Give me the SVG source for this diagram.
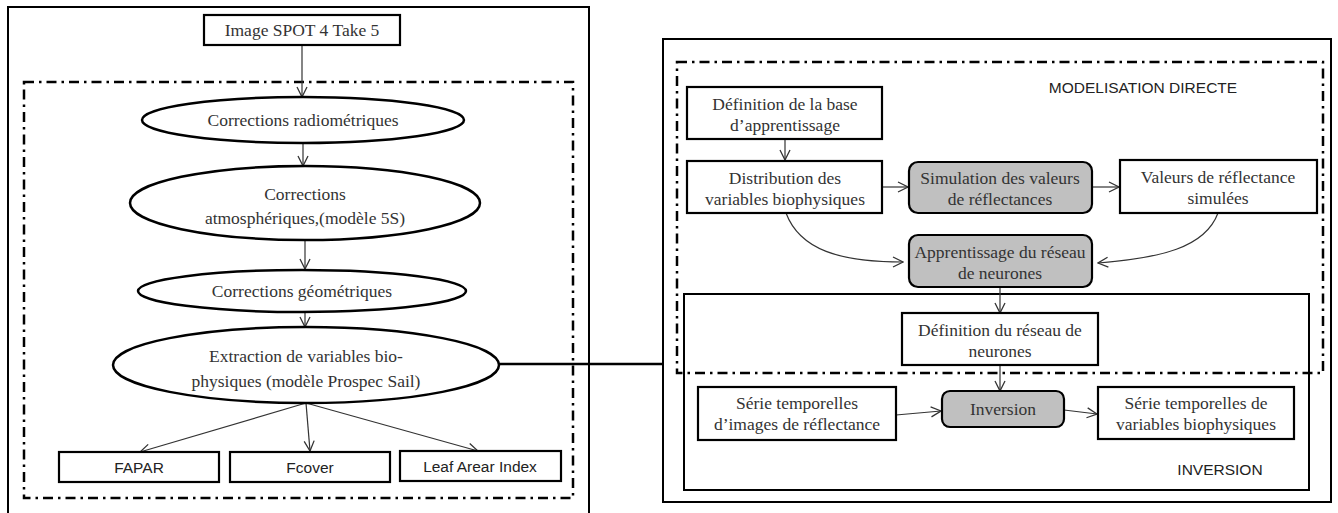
<svg xmlns="http://www.w3.org/2000/svg" width="1338" height="513" viewBox="0 0 1338 513">
<style>
.frame{fill:none;stroke:#000;stroke-width:2}
.dd{fill:none;stroke:#000;stroke-width:2.5;stroke-dasharray:10 5 2.5 5}
.box{fill:#fff;stroke:#000;stroke-width:2.2}
.gbox{fill:#c0c0c0;stroke:#000;stroke-width:2.2}
.ell{fill:#fff;stroke:#000;stroke-width:2.5}
.t{font-family:"Liberation Serif","Times New Roman",serif;font-size:17.5px;fill:#333;text-anchor:middle}
.s{font-family:"Liberation Sans",Arial,sans-serif;font-size:15.5px;fill:#222;text-anchor:middle}
.c{fill:none;stroke:#333;stroke-width:1.2;marker-end:url(#ah)}
</style>
<defs>
<marker id="ah" viewBox="0 0 12 12" refX="11" refY="6" markerWidth="12" markerHeight="12" markerUnits="userSpaceOnUse" orient="auto">
<path d="M1,1 L11,6 L1,11" fill="none" stroke="#333" stroke-width="1.3"/>
</marker>
</defs>
<rect width="1338" height="513" fill="#fff"/>
<g id="frames">
<rect class="frame" x="8" y="7" width="581" height="520"/>
<rect class="dd" x="24" y="82" width="549" height="416"/>
<rect class="frame" x="663" y="39" width="668" height="463"/>
<rect class="dd" x="677" y="62" width="646" height="311"/>
<rect class="frame" x="684" y="294" width="625" height="196"/>
<text class="s" x="1143" y="93" font-size="15">MODELISATION DIRECTE</text>
<text class="s" x="1220" y="475" font-size="15">INVERSION</text>
</g>
<g id="connectors">
<line class="c" x1="302" y1="45" x2="302" y2="97"/>
<line class="c" x1="303" y1="143" x2="303" y2="166"/>
<line class="c" x1="305" y1="240" x2="305" y2="269"/>
<line class="c" x1="305" y1="312" x2="305" y2="327"/>
<line class="c" x1="306" y1="403" x2="140" y2="452"/>
<line class="c" x1="306" y1="403" x2="310" y2="451"/>
<line class="c" x1="306" y1="403" x2="478" y2="451"/>
<line x1="499" y1="364" x2="663" y2="364" stroke="#000" stroke-width="2.5"/>
<line class="c" x1="785" y1="139" x2="785" y2="160"/>
<line class="c" x1="882" y1="187" x2="908" y2="187"/>
<line class="c" x1="1092" y1="187" x2="1119" y2="187"/>
<path class="c" d="M786,213 C800,250 840,262 903,262"/>
<path class="c" d="M1218,213 C1205,248 1160,258 1098,263"/>
<line class="c" x1="1000" y1="287" x2="1000" y2="313"/>
<line class="c" x1="1000" y1="365" x2="1000" y2="391"/>
<line class="c" x1="896" y1="415" x2="941" y2="411"/>
<line class="c" x1="1064" y1="410" x2="1097" y2="414"/>
</g>
<g id="n-spot"><rect class="box" x="204" y="15" width="196" height="30"/><text class="t" x="302" y="36">Image SPOT 4 Take 5</text></g>
<g id="n-radio"><ellipse class="ell" cx="303" cy="120" rx="161" ry="23"/><text class="t" x="303" y="126">Corrections radiométriques</text></g>
<g id="n-atmo"><ellipse class="ell" cx="305" cy="203" rx="175" ry="37"/><text class="t" x="305" y="200">Corrections</text><text class="t" x="305" y="224">atmosphériques,(modèle 5S)</text></g>
<g id="n-geo"><ellipse class="ell" cx="302" cy="291" rx="164" ry="21"/><text class="t" x="302" y="297">Corrections géométriques</text></g>
<g id="n-extr"><ellipse class="ell" cx="306" cy="365" rx="193" ry="38"/><text class="t" x="306" y="362">Extraction de variables bio-</text><text class="t" x="306" y="387">physiques (modèle Prospec Sail)</text></g>
<g id="n-fapar"><rect class="box" x="59" y="452" width="160" height="30"/><text class="s" x="139" y="473">FAPAR</text></g>
<g id="n-fcover"><rect class="box" x="230" y="452" width="160" height="30"/><text class="s" x="310" y="473">Fcover</text></g>
<g id="n-lai"><rect class="box" x="400" y="451" width="161" height="30"/><text class="s" x="480" y="472">Leaf Arear Index</text></g>
<g id="n-def"><rect class="box" x="687" y="87" width="195" height="52"/><text class="t" x="785" y="110">Définition de la base</text><text class="t" x="785" y="131">d’apprentissage</text></g>
<g id="n-dist"><rect class="box" x="687" y="161" width="195" height="52"/><text class="t" x="785" y="184">Distribution des</text><text class="t" x="785" y="205">variables biophysiques</text></g>
<g id="n-sim"><rect class="gbox" x="909" y="162" width="183" height="51" rx="9"/><text class="t" x="1000" y="184">Simulation des valeurs</text><text class="t" x="1000" y="205">de réflectances</text></g>
<g id="n-val"><rect class="box" x="1120" y="160" width="197" height="53"/><text class="t" x="1218" y="183">Valeurs de réflectance</text><text class="t" x="1218" y="204">simulées</text></g>
<g id="n-app"><rect class="gbox" x="909" y="235" width="183" height="52" rx="9"/><text class="t" x="1000" y="258">Apprentissage du réseau</text><text class="t" x="1000" y="279">de neurones</text></g>
<g id="n-defres"><rect class="box" x="902" y="313" width="196" height="52"/><text class="t" x="1000" y="336">Définition du réseau de</text><text class="t" x="1000" y="357">neurones</text></g>
<g id="n-inv"><rect class="gbox" x="942" y="391" width="122" height="36" rx="8"/><text class="t" x="1003" y="415">Inversion</text></g>
<g id="n-serie1"><rect class="box" x="698" y="387" width="198" height="53"/><text class="t" x="797" y="409">Série temporelles</text><text class="t" x="797" y="430">d’images de réflectance</text></g>
<g id="n-serie2"><rect class="box" x="1098" y="387" width="196" height="52"/><text class="t" x="1196" y="409">Série temporelles de</text><text class="t" x="1196" y="430">variables biophysiques</text></g>
</svg>
